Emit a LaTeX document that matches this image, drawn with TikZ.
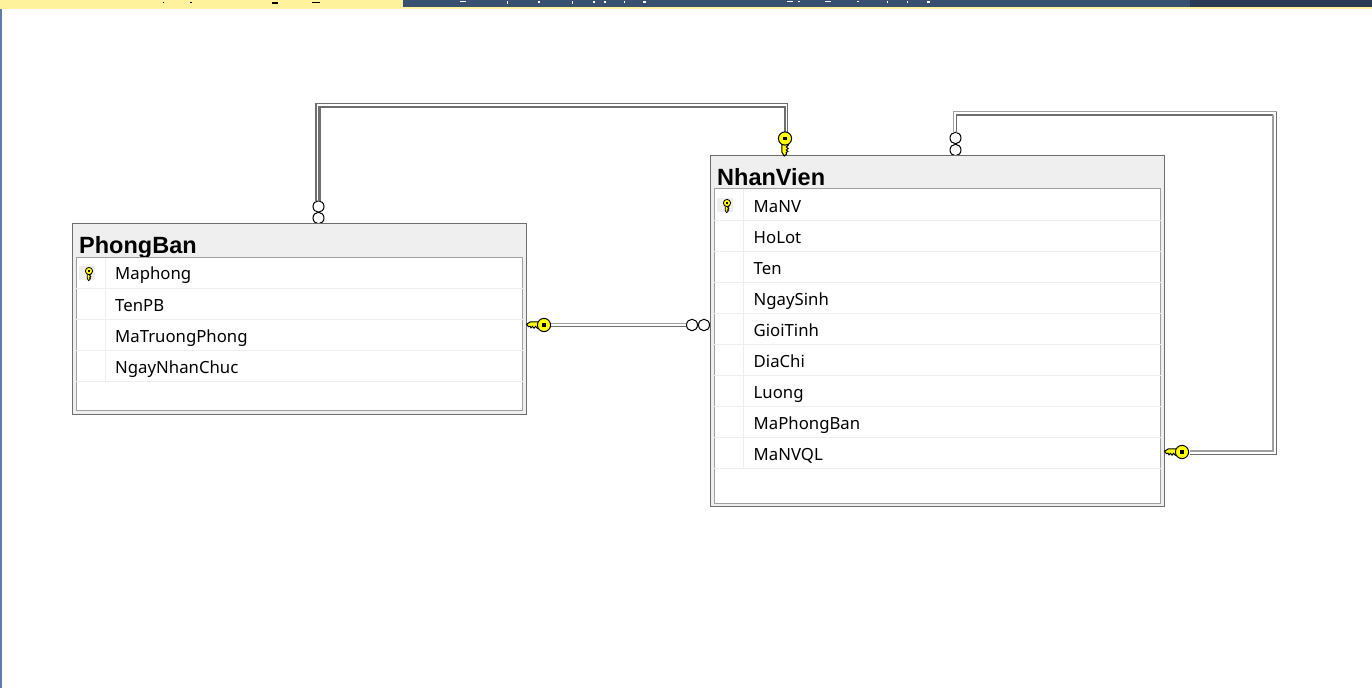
\documentclass[tikz,border=0pt]{standalone}
\usepackage{fontspec}
\setmainfont{Noto Sans}
\newfontfamily\titlefont{Liberation Sans}
\definecolor{barY}{HTML}{FFF29D}
\definecolor{barB}{HTML}{3A5070}
\definecolor{barD}{HTML}{2B3A55}
\definecolor{stripC}{HTML}{5F7BAE}
\definecolor{headG}{HTML}{EFEFEF}
\definecolor{rowG}{HTML}{EEEEEE}
\definecolor{frameD}{HTML}{6E6E6E}
\definecolor{frameL}{HTML}{A0A0A0}
\definecolor{keyY}{HTML}{FFFF00}
\tikzset{
  x=1pt,y=-1pt,
  tablebox/.style={draw=frameD,line width=1pt,fill=headG,anchor=north west,inner sep=0pt,outer sep=0pt},
  innerbox/.style={draw=frameL,line width=1pt,fill=white,anchor=north west,inner sep=0pt,outer sep=0pt},
  titletext/.style={anchor=base west,inner sep=0pt,font=\titlefont\fontsize{23.5}{25}\selectfont\bfseries},
  rowtext/.style={anchor=base west,inner sep=0pt,font=\fontsize{16.75}{20}\selectfont},
  ringnode/.style={ellipse,draw=black,line width=1pt,fill=white,minimum width=11pt,minimum height=11.5pt,inner sep=0pt},
  connlight/.style={draw=frameL,line width=1.7pt},
  connmid/.style={draw=frameD,line width=1.7pt},
  connthin/.style={draw=frameD,line width=1.2pt},
  conndark/.style={draw=frameD,line width=2.9pt},
  sep/.style={draw=rowG,line width=1pt},
  pics/bigkey/.style={code={
    \fill[keyY,draw=black,line width=#1]
      (-3,-3.2)--(-13.5,-3.2)--(-17.5,-0.8)--(-15.5,1.7)--(-14,1.2)--(-13,2.9)--(-11.5,1.4)--(-10,3.1)--(-8.5,1.4)--(-6.5,3.3)--(-3,4.2)--cycle;
    \fill[keyY,draw=black,line width=#1] (0,0) circle[radius=6.6];
    \fill[black] (-1.6,-1.6) rectangle (1.6,1.6);
  }},
}
\usetikzlibrary{shapes.geometric}
\begin{document}
\begin{tikzpicture}
\useasboundingbox (0,0) rectangle (1372,688);
\fill[white] (0,0) rectangle (1372,688);
% top strip
\fill[barY] (0,0) rectangle (1372,9);
\fill[barB] (403,0) rectangle (1190,7);
\fill[barD] (1190,0) rectangle (1372,7);
\fill[stripC] (0,9) rectangle (2,688);
% clipped text fragments at the top edge
\foreach \px/\pw/\ph in {163/1/1,190/2/1,272/6/2,312/8/1}{\fill[black] (\px,1.5) rectangle ++(\pw,\ph);}
\foreach \px/\pw/\ph in {460/6/1,507/1/3,538/2/2,572/1/3,593/2/2,604/2/2,624/1/2,643/3/2,787/6/1,798/2/1,825/6/1,857/2/1,887/1/2,907/1/2,927/3/2}{\fill[white] (\px,0.5) rectangle ++(\pw,\ph);}

% ring ends (under the tables)
\node[ringnode] (r1a) at (318.5,206.5) {};
\node[ringnode] (r1b) at (318.5,218) {};
\node[ringnode] (r2a) at (692,325) {};
\node[ringnode] (r2b) at (704,325) {};
\node[ringnode] (r3a) at (955.5,138) {};
\node[ringnode] (r3b) at (955.5,150) {};

% tables
\node[tablebox,minimum width=454.2pt,minimum height=190.5pt] (pb) at (72.3,223.5) {};
\node[titletext] (pbt) at (79,253.5) {PhongBan};
\node[innerbox,minimum width=446.2pt,minimum height=153.5pt] (pbi) at (76.3,257) {};
\foreach \yy in {288.5,319.5,350.5,381.5}{\draw[sep] (pbi.west |- 0,\yy) -- (pbi.east |- 0,\yy);}
\draw[sep] (105.5,258) -- (105.5,381);
\fill[rowG] (79,266) rectangle (95,280);
\node[rowtext] (pb1) at (115,279.5) {Maphong};
\node[rowtext] (pb2) at (115,311) {TenPB};
\node[rowtext] (pb3) at (115,342) {MaTruongPhong};
\node[rowtext] (pb4) at (115,373) {NgayNhanChuc};

\node[tablebox,minimum width=454.2pt,minimum height=350.5pt] (nv) at (710.3,155.5) {};
\node[titletext] (nvt) at (717,185.5) {NhanVien};
\node[innerbox,minimum width=446.2pt,minimum height=314.5pt] (nvi) at (714.3,188.5) {};
\foreach \yy in {220.5,251.5,282.5,313.5,344.5,375.5,406.5,437.5,468.5}{\draw[sep] (nvi.west |- 0,\yy) -- (nvi.east |- 0,\yy);}
\draw[sep] (743.5,189) -- (743.5,468);
\fill[rowG] (717,198) rectangle (733,212);
\node[rowtext] (nv1) at (753.5,212) {MaNV};
\node[rowtext] (nv2) at (753.5,243) {HoLot};
\node[rowtext] (nv3) at (753.5,274) {Ten};
\node[rowtext] (nv4) at (753.5,305) {NgaySinh};
\node[rowtext] (nv5) at (753.5,336) {GioiTinh};
\node[rowtext] (nv6) at (753.5,367) {DiaChi};
\node[rowtext] (nv7) at (753.5,398) {Luong};
\node[rowtext] (nv8) at (753.5,429) {MaPhongBan};
\node[rowtext] (nv9) at (753.5,460) {MaNVQL};

% small primary-key glyphs
\pic[scale=0.55,rotate=90] at (89,271) {bigkey={0.8pt}};
\pic[scale=0.55,rotate=90] at (727,203) {bigkey={0.8pt}};

% connector PhongBan -- NhanVien (top)
\coordinate (k1) at (785,133);
\coordinate (a1) at (316,201);
\coordinate (a2) at (316,103.2);
\coordinate (a3) at (787.5,103.2);
\coordinate (a4) at (787.5,133);
\coordinate (b1) at (319.5,201);
\coordinate (b2) at (319.5,107);
\coordinate (b3) at (785,107);
\coordinate (b4) at (k1);
\draw[connthin] (a1) -- (a2) -- (a3) -- (a4);
\draw[conndark] (b1) -- (b2) -- (b3) -- (b4);
\pic[rotate=90] at (785,138.5) {bigkey={1pt}};

% connector PhongBan -- NhanVien (side)
\coordinate (c1) at (551,323.5);
\coordinate (c2) at (686,323.5);
\coordinate (d1) at (551,326.5);
\coordinate (d2) at (686,326.5);
\draw[connlight] (c1) -- (c2);
\draw[connmid] (d1) -- (d2);
\pic at (544,325) {bigkey={1pt}};

% connector NhanVien self reference
\coordinate (e1) at (953.5,133);
\coordinate (e2) at (953.5,111.5);
\coordinate (e3) at (1276.5,111.5);
\coordinate (e4) at (1276.5,454.5);
\coordinate (e5) at (1190,454.5);
\coordinate (f1) at (956.5,133);
\coordinate (f2) at (956.5,115);
\coordinate (f3) at (1273,115);
\coordinate (f4) at (1273,451);
\coordinate (f5) at (1190,451);
\draw[connlight] (e1) -- (e2) -- (e3);
\draw[connmid] (e3) -- (e4) -- (e5);
\draw[connmid] (f1) -- (f2) -- (f3);
\draw[connlight] (f3) -- (f4) -- (f5);
\pic at (1182,452) {bigkey={1pt}};
\end{tikzpicture}
\end{document}
